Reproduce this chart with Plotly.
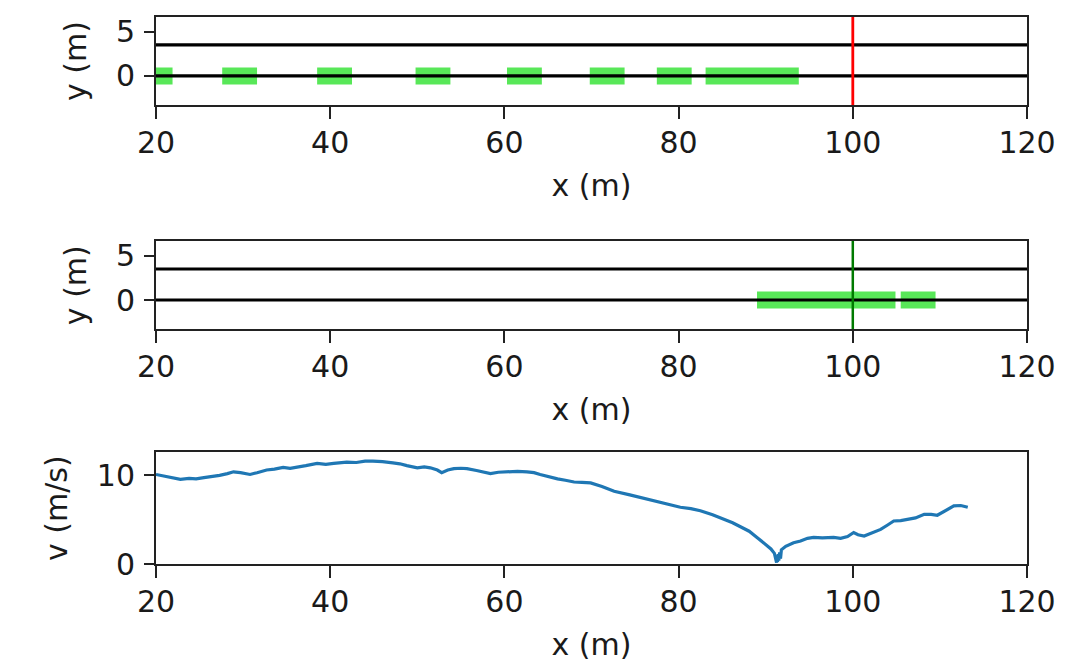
import plotly.graph_objects as go

# ---------------- data ----------------
lane_lines_y = [0.0, 3.5]          # lane boundary lines (m)
road_x = [20, 120]                 # extent of drawn road lines (m)
stop_line_x = 100.0                # traffic light position (m)
car_length = 4.0
car_width = 1.9

# car centre positions while light is red (top panel)
cars_red_x = [19.9, 29.6, 40.5, 51.8, 62.3, 71.8, 79.5, 85.1, 88.4, 90.3, 91.2, 91.6, 91.8]
# car centre positions after light turns green (middle panel)
cars_green_x = [91.0, 91.2, 92.0, 94.0, 96.6, 99.6, 102.9, 107.5]

# velocity profile (bottom panel)
vel_x = [20.0, 21.0, 22.0, 22.8, 23.8, 24.6, 25.5, 26.4, 27.3, 28.2, 28.9, 29.7,
         30.8, 31.6, 32.7, 33.6, 34.6, 35.4, 36.2, 37.2, 38.5, 39.5, 40.4, 41.2,
         41.9, 43.0, 44.0, 44.9, 46.0, 47.2, 48.0, 48.8, 50.0, 50.8, 51.5, 52.3,
         52.8, 53.5, 54.2, 55.0, 55.7, 56.8, 57.6, 58.4, 59.3, 60.3, 61.5, 62.6,
         63.4, 64.1, 65.0, 66.1, 67.0, 68.0, 68.9, 69.9, 71.2, 72.6, 74.4, 76.4,
         78.3, 80.2, 81.4, 82.5, 83.9, 85.2, 86.2, 87.1, 88.1, 89.0, 89.8, 90.6,
         91.0, 91.15, 91.25, 91.3, 91.35, 91.45, 91.5, 91.6, 91.7, 91.8, 92.3, 93.2, 94.0,
         94.8, 95.5, 96.5, 97.8, 98.6, 99.4, 100.1, 100.6, 101.3, 102.2, 103.2, 104.0,
         104.7, 105.5, 106.3, 107.2, 108.2, 109.0, 109.7, 110.5, 111.0, 111.6, 112.4, 113.2]
vel_v = [10.1, 9.9, 9.7, 9.55, 9.65, 9.6, 9.75, 9.85, 10.0, 10.2, 10.4, 10.3,
         10.1, 10.3, 10.6, 10.7, 10.9, 10.8, 10.9, 11.1, 11.35, 11.25, 11.35, 11.45,
         11.5, 11.45, 11.6, 11.6, 11.55, 11.4, 11.3, 11.1, 10.85, 10.95, 10.85, 10.6,
         10.3, 10.6, 10.75, 10.8, 10.75, 10.55, 10.35, 10.2, 10.35, 10.4, 10.45, 10.4,
         10.3, 10.1, 9.85, 9.6, 9.45, 9.25, 9.2, 9.15, 8.75, 8.2, 7.8, 7.3,
         6.9, 6.4, 6.25, 6.0, 5.55, 5.05, 4.65, 4.2, 3.7, 3.0, 2.4, 1.7,
         1.2, 0.6, 0.15, 0.9, 0.25, 1.1, 0.4, 1.3, 0.6, 1.6, 2.0, 2.4, 2.6,
         2.9, 3.0, 2.95, 3.0, 2.9, 3.1, 3.55, 3.3, 3.15, 3.5, 3.9, 4.4,
         4.85, 4.9, 5.05, 5.2, 5.6, 5.6, 5.5, 5.9, 6.2, 6.55, 6.6, 6.4]

x_ticks = [20, 40, 60, 80, 100, 120]
y_pos_ticks = [0, 5]
v_ticks = [0, 10]
y_pos_range = [-3.3, 6.65]
v_range = [0, 12.6]

# ---------------- styling ----------------
FONT = dict(family="DejaVu Sans", size=30, color="#1a1a1a")
CAR_COLOR = "rgba(30,222,30,0.74)"

fig = go.Figure()


def add_cars(centres, xa, ya):
    xs, ys = [], []
    for c in centres:
        x0, x1 = c - car_length / 2, c + car_length / 2
        y0, y1 = -car_width / 2, car_width / 2
        xs += [x0, x1, x1, x0, x0, None]
        ys += [y0, y0, y1, y1, y0, None]
    fig.add_trace(go.Scatter(
        x=xs, y=ys, fill="toself", fillcolor=CAR_COLOR, mode="lines",
        line=dict(width=0), xaxis=xa, yaxis=ya, hoverinfo="skip",
        showlegend=False))


def add_lanes(xa, ya):
    for ly in lane_lines_y:
        fig.add_trace(go.Scatter(
            x=road_x, y=[ly, ly], mode="lines",
            line=dict(color="black", width=3.2), xaxis=xa, yaxis=ya,
            showlegend=False, hoverinfo="skip"))


# top panel
add_cars(cars_red_x, "x", "y")
add_lanes("x", "y")
fig.add_trace(go.Scatter(x=[stop_line_x, stop_line_x], y=y_pos_range, mode="lines",
                         line=dict(color="red", width=2.8), xaxis="x", yaxis="y",
                         showlegend=False))
# middle panel
add_cars(cars_green_x, "x2", "y2")
add_lanes("x2", "y2")
fig.add_trace(go.Scatter(x=[stop_line_x, stop_line_x], y=y_pos_range, mode="lines",
                         line=dict(color="#007a00", width=2.5), xaxis="x2", yaxis="y2",
                         showlegend=False))
# bottom panel
fig.add_trace(go.Scatter(x=vel_x, y=vel_v, mode="lines",
                         line=dict(color="#1f77b4", width=3.2), xaxis="x3", yaxis="y3",
                         showlegend=False))

common_x = dict(range=[20, 120], tickvals=x_ticks, ticks="outside", ticklen=12,
                tickwidth=2, tickcolor="#222", showline=True, linecolor="#222",
                linewidth=2, mirror=True, showgrid=False, zeroline=False,
                tickfont=FONT, title=dict(text="x (m)", font=FONT, standoff=16),
                ticklabelstandoff=-2)
common_y = dict(ticks="outside", ticklen=10, tickwidth=2, tickcolor="#222",
                showline=True, linecolor="#222", linewidth=2, mirror=True,
                showgrid=False, zeroline=False, tickfont=FONT, ticklabelstandoff=3)

dom_x = [0, 1]
fig.update_layout(
    width=1080, height=670,
    margin=dict(l=148, r=61, t=6, b=114),
    paper_bgcolor="white", plot_bgcolor="white",
    xaxis=dict(domain=dom_x, anchor="y", **common_x),
    yaxis=dict(domain=[0.8387, 1.0], anchor="x", range=y_pos_range, tickvals=y_pos_ticks,
               title=dict(text="y (m)", font=FONT, standoff=20), **common_y),
    xaxis2=dict(domain=dom_x, anchor="y2", **common_x),
    yaxis2=dict(domain=[0.4291, 0.5904], anchor="x2", range=y_pos_range, tickvals=y_pos_ticks,
                title=dict(text="y (m)", font=FONT, standoff=20), **common_y),
    xaxis3=dict(domain=dom_x, anchor="y3", **common_x),
    yaxis3=dict(domain=[0.0, 0.2042], anchor="x3", range=v_range, tickvals=v_ticks,
                title=dict(text="v (m/s)", font=FONT, standoff=20), **common_y),
)

fig.write_html("out.html")
